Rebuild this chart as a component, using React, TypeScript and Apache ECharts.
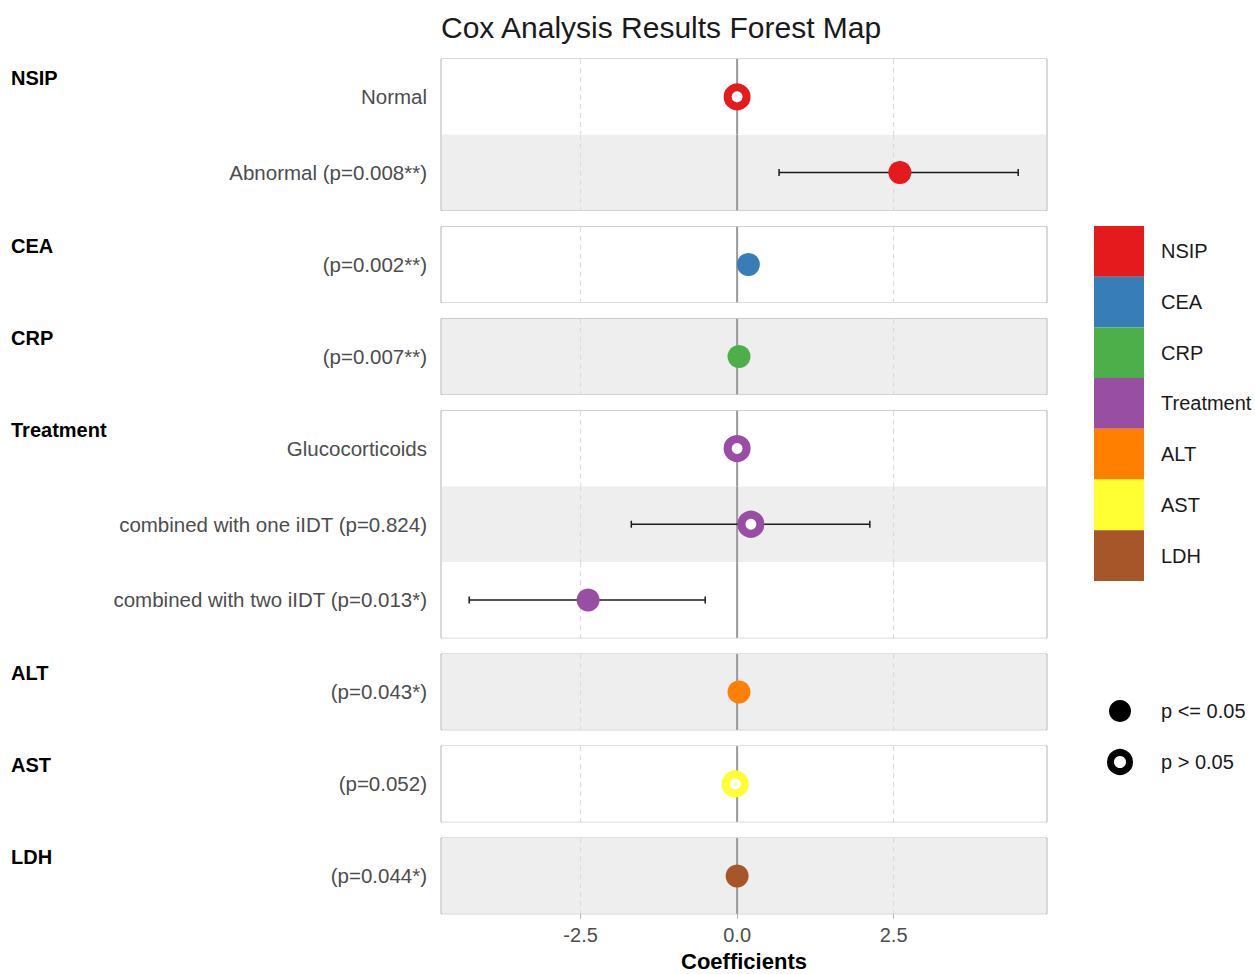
import React, { useEffect, useRef } from "react";
import * as echarts from "echarts";

const panels = ["NSIP", "CEA", "CRP", "Treatment", "ALT", "AST", "LDH"];
const panelColors = ["#E41A1C", "#377EB8", "#4DAF4A", "#984EA3", "#FF7F00", "#FFFF33", "#A65628"];
const rowPanel = [0, 0, 1, 2, 3, 3, 3, 4, 5, 6];
const rowLabels = [
  "Normal",
  "Abnormal (p=0.008**)",
  "(p=0.002**)",
  "(p=0.007**)",
  "Glucocorticoids",
  "combined with one iIDT (p=0.824)",
  "combined with two iIDT (p=0.013*)",
  "(p=0.043*)",
  "(p=0.052)",
  "(p=0.044*)",
];
const estimates = [0, 2.6, 0.18, 0.03, 0, 0.22, -2.38, 0.03, -0.03, 0];
const lowerCI: (number | null)[] = [null, 0.67, null, null, null, -1.69, -4.28, null, null, null];
const upperCI: (number | null)[] = [null, 4.49, null, null, null, 2.12, -0.51, null, null, null];
const significant = [false, true, true, true, false, false, true, true, false, true];
const xTicks = [-2.5, 0, 2.5];
const xMin = -4.73;
const xMax = 4.95;
const shapeLegend = ["p <= 0.05", "p > 0.05"];

const FONT = "'Liberation Sans', Arial, sans-serif";
const LEFT = 441;
const WIDTH = 606;
const TOP0 = 59;
const ROWH = 75.7;
const GAP = 16.3;

export default function App() {
  const ref = useRef<HTMLDivElement>(null);
  useEffect(() => {
    if (!ref.current) return;
    const chart = echarts.init(ref.current, null, { renderer: "svg" });

    const grids: any[] = [];
    const xAxes: any[] = [];
    const yAxes: any[] = [];
    const series: any[] = [];
    const graphics: any[] = [];
    let top = TOP0;
    const last = panels.length - 1;

    panels.forEach((p, g) => {
      const rows = rowPanel.map((rp, i) => (rp === g ? i : -1)).filter((i) => i >= 0);
      const h = rows.length * ROWH;
      grids.push({
        left: LEFT,
        width: WIDTH,
        top,
        height: h,
        show: true,
        borderColor: "#b3b3b3",
        borderWidth: 1,
        backgroundColor: "#ffffff",
      });
      graphics.push({
        type: "text",
        left: 11,
        top: top + 9,
        style: { text: p, font: `bold 20px ${FONT}`, fill: "#000000" },
      });
      xAxes.push({
        type: "value",
        gridIndex: g,
        min: xMin,
        max: xMax,
        axisLine: { show: false },
        splitLine: { show: false },
        axisTick: {
          show: g === last,
          customValues: xTicks,
          length: 5,
          lineStyle: { color: "#b3b3b3" },
        },
        axisLabel: {
          show: g === last,
          customValues: xTicks,
          formatter: (v: number) => v.toFixed(1),
          fontFamily: FONT,
          fontSize: 20,
          color: "#4d4d4d",
          margin: 11,
        },
      });
      yAxes.push({
        type: "category",
        gridIndex: g,
        inverse: true,
        data: rows.map((i) => rowLabels[i]),
        axisLine: { show: false },
        axisTick: { show: false },
        splitLine: { show: false },
        axisLabel: { fontFamily: FONT, fontSize: 20.5, color: "#4d4d4d", margin: 14 },
      });
      // bands + gridlines
      series.push({
        type: "custom",
        xAxisIndex: g,
        yAxisIndex: g,
        z: 1,
        silent: true,
        data: rows.map((gi, li) => [0, li, gi]),
        renderItem: (params: any, api: any) => {
          const cs = params.coordSys;
          const li = api.value(1);
          const gi = api.value(2);
          const cy = api.coord([0, li])[1];
          const bh = api.size([0, 1])[1];
          const y0 = cy - bh / 2;
          const children: any[] = [
            {
              type: "rect",
              shape: { x: cs.x + 1, y: y0, width: cs.width - 2, height: bh },
              style: { fill: gi % 2 === 1 ? "#eeeeee" : "#ffffff" },
            },
          ];
          xTicks.forEach((t) => {
            const x = api.coord([t, li])[0];
            children.push({
              type: "line",
              shape: { x1: x, y1: y0, x2: x, y2: y0 + bh },
              style:
                t === 0
                  ? { stroke: "#999999", lineWidth: 2 }
                  : { stroke: "#d9d9d9", lineWidth: 1, lineDash: [5, 4] },
            });
          });
          return { type: "group", children };
        },
      });
      // error bars
      const ebData = rows
        .map((gi, li) => (lowerCI[gi] !== null ? [estimates[gi], li, lowerCI[gi], upperCI[gi]] : null))
        .filter((d) => d !== null);
      series.push({
        type: "custom",
        xAxisIndex: g,
        yAxisIndex: g,
        z: 3,
        silent: true,
        data: ebData,
        renderItem: (params: any, api: any) => {
          const li = api.value(1);
          const p1 = api.coord([api.value(2), li]);
          const p2 = api.coord([api.value(3), li]);
          const c = 3.5;
          const st = { stroke: "#1a1a1a", lineWidth: 1.5 };
          return {
            type: "group",
            children: [
              { type: "line", shape: { x1: p1[0], y1: p1[1], x2: p2[0], y2: p2[1] }, style: st },
              { type: "line", shape: { x1: p1[0], y1: p1[1] - c, x2: p1[0], y2: p1[1] + c }, style: st },
              { type: "line", shape: { x1: p2[0], y1: p2[1] - c, x2: p2[0], y2: p2[1] + c }, style: st },
            ],
          };
        },
      });
      // points
      series.push({
        type: "scatter",
        xAxisIndex: g,
        yAxisIndex: g,
        z: 4,
        silent: true,
        symbol: "circle",
        itemStyle: { opacity: 1 },
        data: rows.map((gi, li) => ({
          value: [estimates[gi], li],
          symbolSize: significant[gi] ? 23 : 19,
          itemStyle: significant[gi]
            ? { color: panelColors[g], borderWidth: 0, opacity: 1 }
            : { color: "#ffffff", borderColor: panelColors[g], borderWidth: 8, opacity: 1 },
        })),
      });
      top += h + GAP;
    });

    // x-axis title
    graphics.push({
      type: "text",
      x: LEFT + WIDTH / 2,
      y: 961,
      style: {
        text: "Coefficients",
        font: `bold 22px ${FONT}`,
        fill: "#000000",
        textAlign: "center",
        textVerticalAlign: "middle",
      },
    });

    // colour legend
    const lgTop = 226;
    const lgH = 50.7;
    panels.forEach((p, i) => {
      graphics.push({
        type: "rect",
        shape: { x: 1094, y: lgTop + i * lgH, width: 50, height: lgH },
        style: { fill: panelColors[i] },
      });
      graphics.push({
        type: "text",
        x: 1161,
        y: lgTop + i * lgH + lgH / 2,
        style: { text: p, font: `20px ${FONT}`, fill: "#1a1a1a", textVerticalAlign: "middle" },
      });
    });
    // shape legend
    shapeLegend.forEach((s, i) => {
      const cy = 711 + i * 51;
      graphics.push(
        i === 0
          ? { type: "circle", shape: { cx: 1120, cy, r: 11 }, style: { fill: "#000000" } }
          : {
              type: "circle",
              shape: { cx: 1120, cy, r: 9.5 },
              style: { fill: "#ffffff", stroke: "#000000", lineWidth: 7 },
            }
      );
      graphics.push({
        type: "text",
        x: 1161,
        y: cy,
        style: { text: s, font: `20px ${FONT}`, fill: "#1a1a1a", textVerticalAlign: "middle" },
      });
    });

    chart.setOption({
      animation: false,
      backgroundColor: "#ffffff",
      title: {
        text: "Cox Analysis Results Forest Map",
        left: 436,
        top: 7,
        textStyle: { fontFamily: FONT, fontSize: 30, fontWeight: "normal", color: "#1a1a1a" },
      },
      grid: grids,
      xAxis: xAxes,
      yAxis: yAxes,
      series,
      graphic: graphics,
    });
    return () => chart.dispose();
  }, []);
  return (
    <div
      ref={ref}
      style={{ position: "fixed", left: 0, top: 0, width: 1255, height: 974 }}
    />
  );
}
